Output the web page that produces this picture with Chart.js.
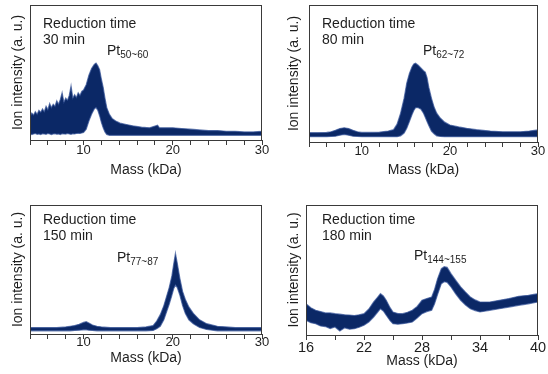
<!DOCTYPE html>
<html>
<head>
<meta charset="utf-8">
<script src="https://cdn.jsdelivr.net/npm/chart.js@4.4.0/dist/chart.umd.min.js"></script>
<style>
  body { margin: 0; background: #fff; }
  .panel { position: absolute; width: 274px; height: 187px; }
</style>
</head>
<body>
<div class="panel" style="left:0;top:0"><canvas id="c30" width="274" height="187"></canvas></div>
<div class="panel" style="left:274px;top:0"><canvas id="c80" width="274" height="187"></canvas></div>
<div class="panel" style="left:0;top:187px"><canvas id="c150" width="274" height="187"></canvas></div>
<div class="panel" style="left:274px;top:187px"><canvas id="c180" width="274" height="187"></canvas></div>
<script>
// Spectra: upper and lower edge of the noisy trace (a.u.)

// 30 min
const mass30 = [4, 4.2, 4.4, 4.6, 4.8, 5, 5.2, 5.4, 5.6, 5.8, 6, 6.2, 6.4, 6.6, 6.8, 7, 7.2, 7.4, 7.6, 7.8,
    8, 8.2, 8.4, 8.6, 8.8, 9, 9.2, 9.4, 9.6, 9.8, 10,
    10.3, 10.6, 10.9, 11.2, 11.4, 11.6, 11.8, 12, 12.2, 12.4, 12.6, 12.9, 13.2, 13.6, 14.1, 14.8, 15.5, 16.5, 17.4, 18.3,
    18.5, 20, 21, 22, 23, 24, 25, 26, 27, 28, 29, 30];
const upper30 = [17, 20, 18.5, 21, 19, 22, 20.5, 23, 21, 25, 22.5, 27, 24, 26.5, 25, 29, 26.5, 30, 35, 28,
    31, 29.5, 33, 40, 31, 33.5, 31.5, 35, 33, 36, 37,
    41, 48, 53, 56, 57, 55, 52, 45, 39, 31, 24, 19, 16, 14, 12.5, 11.5, 10.5, 9.5, 9, 11,
    9, 9, 8.5, 8, 7.5, 7, 7, 6.5, 6.5, 6, 6, 6.5];
const lower30 = [4.5, 4, 4.5, 4.8, 4.2, 4.5, 4, 4.6, 4.5, 4.2, 4.8, 4.5, 4, 4.5, 4.7, 4.3, 4.5, 4, 4.6, 4.5,
    4.4, 4.8, 4.5, 4.2, 4.6, 4.5, 4.8, 5, 4.9, 5.2, 5.5,
    8, 14, 19, 23, 24, 22, 18, 13, 9, 6, 4, 3.5, 3.5, 3.5, 3.5, 3.5, 3.5, 3.5, 3.5, 3.5,
    3.5, 3.5, 3.5, 3.5, 3.5, 3.5, 3.5, 3.5, 3.5, 3.5, 3.5, 3.5];

// 80 min
const mass80 = [4, 5, 6, 6.5, 7, 7.5, 8, 8.5, 9, 9.5, 10, 11, 12, 13, 13.6, 14, 14.4, 14.8, 15.1, 15.4,
    15.7, 15.9, 16.1, 16.4, 16.7, 17, 17.2, 17.4, 17.6, 17.9, 18.2, 18.5, 18.9, 19.4, 20, 21, 21.9, 23, 24.6, 26,
    28, 29, 30];
const upper80 = [6.8, 6.8, 7, 7.5, 8.5, 9.8, 10.4, 9.8, 8.5, 7.5, 7, 7, 7.2, 8, 9, 13, 21, 32, 43, 50,
    55, 57, 57.5, 56, 54, 52, 51, 47, 40, 32, 25.5, 21, 17.5, 14.5, 12.4, 11, 10, 9, 8, 7.5,
    7.5, 8, 8.8];
const lower80 = [3.9, 3.9, 3.9, 4, 4.2, 5, 5.5, 5, 4.2, 4, 3.9, 3.9, 3.9, 3.9, 3.9, 3.9, 4.5, 6.5, 10, 15,
    20, 23, 25, 25, 24, 21, 18, 15, 12, 8, 6, 4.5, 4, 3.9, 3.9, 3.9, 3.9, 3.9, 3.9, 3.9,
    3.9, 3.9, 3.9];

// 150 min
const mass150 = [4, 5, 6, 7, 8, 8.5, 9, 9.5, 10, 10.3, 10.6, 11, 11.5, 12, 13, 14, 15, 16, 17, 17.8,
    18.2, 18.6, 19, 19.3, 19.6, 19.9, 20.1, 20.3, 20.5, 20.8, 21.1, 21.4, 21.8, 22.3, 23, 23.8, 25, 26, 27, 28,
    29, 30];
const upper150 = [5, 5, 5, 5, 5.5, 6, 6.5, 7.5, 9, 9.5, 8.5, 7, 6, 5.5, 5, 5, 5, 5, 5.5, 6.5,
    10, 15, 22, 29, 36, 45, 54, 62.5, 55, 43, 33, 27, 21, 16, 11, 8, 6, 5.5, 5, 5,
    5, 5];
const lower150 = [2.5, 2.5, 2.5, 2.5, 2.5, 2.5, 2.8, 3, 3.2, 3.2, 3, 2.8, 2.5, 2.5, 2.5, 2.5, 2.5, 2.5, 2.5, 2.8,
    4, 6, 11, 17, 23, 30, 35, 38, 36, 30, 22, 16, 11, 8, 5, 3.5, 2.5, 2.5, 2.5, 2.5,
    2.5, 2.5];

// 180 min
const mass180 = [16, 16.5, 17, 17.5, 18, 18.5, 19, 19.5, 20, 20.5, 21, 21.5, 22, 22.5, 23, 23.4, 23.7, 24, 24.3, 24.7,
    25, 25.5, 26, 26.5, 27, 27.5, 28, 28.5, 29, 29.3, 29.6, 30, 30.3, 30.6, 31, 31.5, 32, 32.5, 33, 33.5,
    34, 35, 36, 37, 38, 39, 40];
const upper180 = [24, 21, 19, 18, 17, 17, 16.4, 16, 15.5, 15.3, 15, 15.5, 16.4, 20, 25.4, 29, 31.8, 30, 26.7, 21,
    17.7, 16.5, 16.4, 17.5, 19, 22, 26.7, 28, 29.2, 35, 43, 51, 52.5, 52, 47.2, 42, 37, 33, 29.2, 27,
    25.4, 25.4, 26.7, 28, 29.8, 30.5, 31.8];
const lower180 = [11.3, 9.5, 8.7, 7, 6.5, 5, 6.2, 3, 5.5, 4.5, 4.8, 6, 7.5, 10, 13.8, 17.5, 20.2, 18.5, 15.2, 11,
    8.7, 8.3, 8.7, 9.3, 10, 13, 16.4, 18, 19, 24, 31, 39.5, 41, 40.5, 37, 31.5, 26.7, 23, 20.2, 18.8,
    17.7, 19, 20.2, 21.5, 22.8, 24, 25.4];

const navy = '#0b2866';
const edge = 'rgba(50, 80, 150, 0.7)';
const textColor = '#1e1e1e';
const font = "'Liberation Sans', Arial, sans-serif";

// draws frame, "Reduction time" caption and the Pt label
const panelText = {
    id: 'panelText',
    afterDraw(chart, args, o) {
        const { ctx, chartArea: a } = chart;
        ctx.save();
        ctx.strokeStyle = '#3a3a3a';
        ctx.lineWidth = 1;
        ctx.strokeRect(Math.round(a.left) + 0.5, Math.round(a.top) + 0.5,
            Math.round(a.right - a.left) - 1, Math.round(a.bottom - a.top));
        ctx.fillStyle = textColor;
        ctx.textBaseline = 'alphabetic';
        ctx.font = '14px ' + font;
        ctx.fillText('Reduction time', o.capX, o.capY);
        ctx.fillText(o.time, o.capX, o.capY + 16);
        ctx.fillText('Pt', o.ptX, o.ptY);
        const w = ctx.measureText('Pt').width;
        ctx.font = '10px ' + font;
        ctx.fillText(o.sub, o.ptX + w, o.ptY + 3);
        ctx.restore();
    }
};

function makePanel(id, mass, upper, lower, p) {
    const toXY = (ys) => mass.map((m, i) => ({ x: m, y: ys[i] }));
    return new Chart(document.getElementById(id), {
        type: 'line',
        data: {
            datasets: [{
                data: toXY(lower),
                borderColor: edge,
                borderWidth: 1.2,
                pointRadius: 0,
                fill: false
            }, {
                data: toXY(upper),
                borderColor: edge,
                borderWidth: 1.2,
                pointRadius: 0,
                backgroundColor: navy,
                fill: '-1'
            }]
        },
        options: {
            responsive: false,
            animation: false,
            layout: { padding: { left: 0, top: p.top, right: 274 - p.right, bottom: 0 } },
            plugins: {
                legend: { display: false },
                tooltip: { enabled: false },
                panelText: p.text
            },
            scales: {
                x: {
                    type: 'linear',
                    min: p.xMin,
                    max: p.xMax,
                    afterFit: (s) => { s.height = 187 - p.bottom; },
                    border: { display: false },
                    grid: { drawOnChartArea: false, drawTicks: true, tickLength: 5, color: '#3a3a3a' },
                    ticks: {
                        stepSize: p.step,
                        autoSkip: false,
                        maxRotation: 0,
                        padding: p.tickPad,
                        color: textColor,
                        font: { size: p.tickSize, family: font },
                        callback: (v) => p.labels.includes(v) ? String(v) : ''
                    },
                    title: {
                        display: true,
                        text: 'Mass (kDa)',
                        color: textColor,
                        font: { size: 14, family: font },
                        padding: { top: 0, bottom: p.xTitlePad }
                    }
                },
                y: {
                    min: 0,
                    max: 100,
                    afterFit: (s) => { s.width = p.left; },
                    border: { display: false },
                    grid: { display: false },
                    ticks: { display: false },
                    title: {
                        display: true,
                        text: 'Ion intensity (a. u.)',
                        color: textColor,
                        font: { size: 14, family: font },
                        padding: { top: p.yTitlePad, bottom: 0 }
                    }
                }
            }
        },
        plugins: [panelText]
    });
}

const ticks10 = [10, 20, 30];
const ticks180 = [16, 22, 28, 34, 40];

makePanel('c30', mass30, upper30, lower30, {
    left: 30, right: 262, top: 5, bottom: 140, xMin: 4, xMax: 30, step: 2,
    labels: ticks10, tickPad: -2, tickSize: 13, xTitlePad: 8.6, yTitlePad: 9.6,
    text: { capX: 43, capY: 28, time: '30 min', ptX: 107, ptY: 55, sub: '50~60' }
});
makePanel('c80', mass80, upper80, lower80, {
    left: 35, right: 264, top: 5, bottom: 142, xMin: 4, xMax: 30, step: 2,
    labels: ticks10, tickPad: -3.5, tickSize: 13, xTitlePad: 8.6, yTitlePad: 11.6,
    text: { capX: 48, capY: 28, time: '80 min', ptX: 149, ptY: 55, sub: '62~72' }
});
makePanel('c150', mass150, upper150, lower150, {
    left: 30, right: 262, top: 18, bottom: 147, xMin: 4, xMax: 30, step: 2,
    labels: ticks10, tickPad: -4, tickSize: 13, xTitlePad: 7.6, yTitlePad: 9.6,
    text: { capX: 43, capY: 37, time: '150 min', ptX: 117, ptY: 75, sub: '77~87' }
});
makePanel('c180', mass180, upper180, lower180, {
    left: 32, right: 264, top: 18, bottom: 148, xMin: 16, xMax: 40, step: 3,
    labels: ticks180, tickPad: -1, tickSize: 14.5, xTitlePad: 4.1, yTitlePad: 11.6,
    text: { capX: 48, capY: 37, time: '180 min', ptX: 140, ptY: 73, sub: '144~155' }
});
</script>
</body>
</html>
